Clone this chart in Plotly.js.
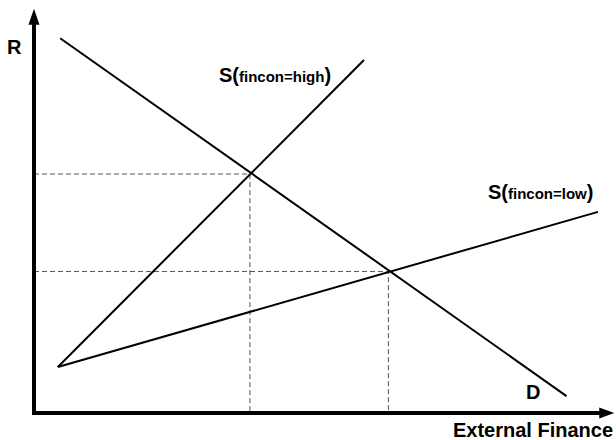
<!DOCTYPE html>
<html>
<head>
<meta charset="utf-8">
<script src="https://cdn.plot.ly/plotly-3.0.1.min.js"></script>
<style>html,body{margin:0;padding:0;background:#fff;}#chart{width:616px;height:440px;}</style>
</head>
<body>
<div id="chart"></div>
<script>
// Line endpoints (data units: 0..10 on each axis)
const demandX = [0.45, 9.15];
const demandY = [9.30, 0.42];
const supplyHighX = [0.41, 5.67];
const supplyHighY = [1.14, 8.76];
const supplyLowX = [0.41, 9.69];
const supplyLowY = [1.14, 4.99];
// Equilibrium points
const eqX = [3.71, 6.09];
const eqY = [5.93, 3.51];
// Labels
const labelText = ["<b>S(<span style='font-size:15px'>fincon=high</span>)</b>", "<b>S(<span style='font-size:15px'>fincon=low</span>)</b>", "<b>D</b>"];
const labelX = [4.14, 8.71, 8.57];
const labelY = [8.39, 5.48, 0.52];
const xTitle = "External Finance";
const yTitle = "R";

const font = "'Liberation Sans', Arial, sans-serif";
const traces = [];
for (let i = 0; i < eqX.length; i++) {
  traces.push({
    x: [0, eqX[i], eqX[i]], y: [eqY[i], eqY[i], 0],
    mode: 'lines', line: {color: '#555', width: 1, dash: '5px,3px'},
    hoverinfo: 'skip', showlegend: false
  });
}
const solid = {color: '#000', width: 2};
traces.push({x: demandX, y: demandY, mode: 'lines', line: solid, showlegend: false});
traces.push({x: supplyHighX, y: supplyHighY, mode: 'lines', line: solid, showlegend: false});
traces.push({x: supplyLowX, y: supplyLowY, mode: 'lines', line: solid, showlegend: false});

const annotations = labelText.map((t, i) => ({
  x: labelX[i], y: labelY[i], xref: 'x', yref: 'y', text: t, showarrow: false,
  font: {family: font, size: 20, color: '#000'}
}));
annotations.push({x: -0.33, y: 9.08, xref: 'x', yref: 'y', text: '<b>' + yTitle + '</b>', showarrow: false,
  font: {family: font, size: 20, color: '#000'}});
annotations.push({x: 8.57, y: -0.43, xref: 'x', yref: 'y', text: '<b>' + xTitle + '</b>', showarrow: false,
  font: {family: font, size: 20, color: '#000'}});

const shapes = [
  {type: 'path', xref: 'x', yref: 'y', path: 'M0,9.65 L0,0 L9.75,0', line: {color: '#000', width: 4}},
  {type: 'path', xref: 'x', yref: 'y', xsizemode: 'pixel', ysizemode: 'pixel', xanchor: 0, yanchor: 10.03,
   path: 'M0,0 L-5.5,-16 L5.5,-16 Z', fillcolor: '#000', line: {color: '#000', width: 0}},
  {type: 'path', xref: 'x', yref: 'y', xsizemode: 'pixel', ysizemode: 'pixel', xanchor: 9.97, yanchor: 0,
   path: 'M0,0 L-15,5.5 L-15,-5.5 Z', fillcolor: '#000', line: {color: '#000', width: 0}}
];

const layout = {
  width: 616, height: 440,
  margin: {l: 0, r: 0, t: 0, b: 0},
  paper_bgcolor: '#fff', plot_bgcolor: '#fff',
  xaxis: {range: [-0.584, 10], visible: false, fixedrange: true},
  yaxis: {range: [-0.670, 10.248], visible: false, fixedrange: true},
  annotations: annotations, shapes: shapes, showlegend: false
};
Plotly.newPlot('chart', traces, layout, {staticPlot: true});
</script>
</body>
</html>
